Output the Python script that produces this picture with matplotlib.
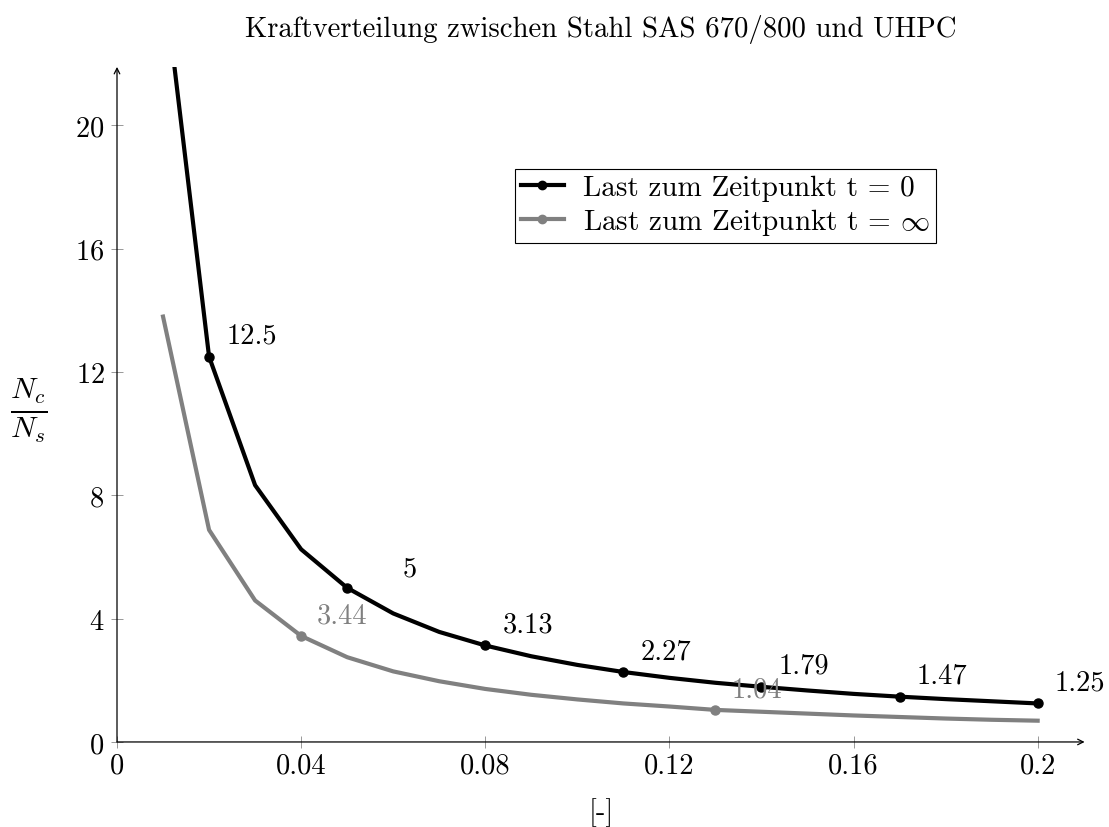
import numpy as np
import matplotlib
matplotlib.use("Agg")
import matplotlib.pyplot as plt

plt.rcParams['font.family'] = ['cmr10', 'DejaVu Serif']
plt.rcParams['mathtext.fontset'] = 'cm'
plt.rcParams['axes.formatter.use_mathtext'] = True

# Stahlanteil [-]
rho = [0.01, 0.02, 0.03, 0.04, 0.05, 0.06, 0.07, 0.08, 0.09, 0.10,
       0.11, 0.12, 0.13, 0.14, 0.15, 0.16, 0.17, 0.18, 0.19, 0.20]
# Nc/Ns bei t = 0
last_t0 = [25.0, 12.5, 8.33, 6.25, 5.0, 4.17, 3.57, 3.13, 2.78, 2.5,
           2.27, 2.08, 1.92, 1.79, 1.67, 1.56, 1.47, 1.39, 1.32, 1.25]
# Nc/Ns bei t = unendlich
last_tinf = [13.8, 6.88, 4.59, 3.44, 2.75, 2.29, 1.97, 1.72, 1.53, 1.38,
             1.25, 1.15, 1.04, 0.98, 0.92, 0.86, 0.81, 0.76, 0.72, 0.69]

# beschriftete Punkte
idx_t0 = [1, 4, 7, 10, 13, 16, 19]
idx_tinf = [3, 12]

x_ticks = [0, 0.04, 0.08, 0.12, 0.16, 0.2]
x_ticklabels = ['0', '0.04', '0.08', '0.12', '0.16', '0.2']
y_ticks = [0, 4, 8, 12, 16, 20]

grau = '#808080'
fs = 20.5

fig = plt.figure(figsize=(11.09, 8.28), dpi=100)
ax = fig.add_axes([0.1055, 0.1027, 0.8725, 0.8153])

ax.plot(rho, last_t0, color='black', lw=3.0, solid_joinstyle='round',
        label='Last zum Zeitpunkt t = 0')
ax.plot(rho, last_tinf, color=grau, lw=3.0, solid_joinstyle='round',
        label=r'Last zum Zeitpunkt t = $\infty$')
ax.plot([rho[i] for i in idx_t0], [last_t0[i] for i in idx_t0], 'o',
        color='black', ms=6.5)
ax.plot([rho[i] for i in idx_tinf], [last_tinf[i] for i in idx_tinf], 'o',
        color=grau, ms=6.5)

for i in idx_t0:
    off = (55, 20) if i == 4 else (17, 21)
    ax.annotate(f'{last_t0[i]:g}', (rho[i], last_t0[i]), xytext=off,
                textcoords='offset pixels', ha='left', va='center',
                fontsize=fs, color='black')
for i in idx_tinf:
    ax.annotate(f'{last_tinf[i]:g}', (rho[i], last_tinf[i]), xytext=(16, 21),
                textcoords='offset pixels', ha='left', va='center',
                fontsize=fs, color=grau)

ax.set_xlim(0, 0.2102)
ax.set_ylim(0, 21.9)
ax.set_xticks(x_ticks)
ax.set_xticklabels(x_ticklabels)
ax.set_yticks(y_ticks)
ax.tick_params(direction='inout', length=8, width=0.6, color='#888888',
               labelsize=fs, pad=5)
ax.tick_params(axis='x', pad=3)

for s in ax.spines.values():
    s.set_visible(False)
# Achsen mit Pfeilen
ax.annotate('', xy=(1, 0), xytext=(0, 0), xycoords='axes fraction',
            arrowprops=dict(arrowstyle='->', lw=0.9, color='black',
                            shrinkA=0, shrinkB=0))
ax.annotate('', xy=(0, 1), xytext=(0, 0), xycoords='axes fraction',
            arrowprops=dict(arrowstyle='->', lw=0.9, color='black',
                            shrinkA=0, shrinkB=0))

ax.set_xlabel('[-]', fontsize=fs, labelpad=14)
ax.text(-0.0909, 0.493, r'$\frac{N_c}{N_s}$', transform=ax.transAxes,
        fontsize=31, ha='center', va='center')
ax.set_title('Kraftverteilung zwischen Stahl SAS 670/800 und UHPC',
             fontsize=20.7, pad=22)

leg = ax.legend(loc='upper left', bbox_to_anchor=(0.411, 0.849),
                borderaxespad=0, fancybox=False, edgecolor='black',
                fontsize=21, handlelength=1.5, handletextpad=0.65,
                borderpad=0.2, labelspacing=0.18, framealpha=1)
leg.get_frame().set_linewidth(0.8)
for h in leg.legend_handles:
    h.set_marker('o')
    h.set_markersize(6)

fig.savefig('out.png', dpi=100)
